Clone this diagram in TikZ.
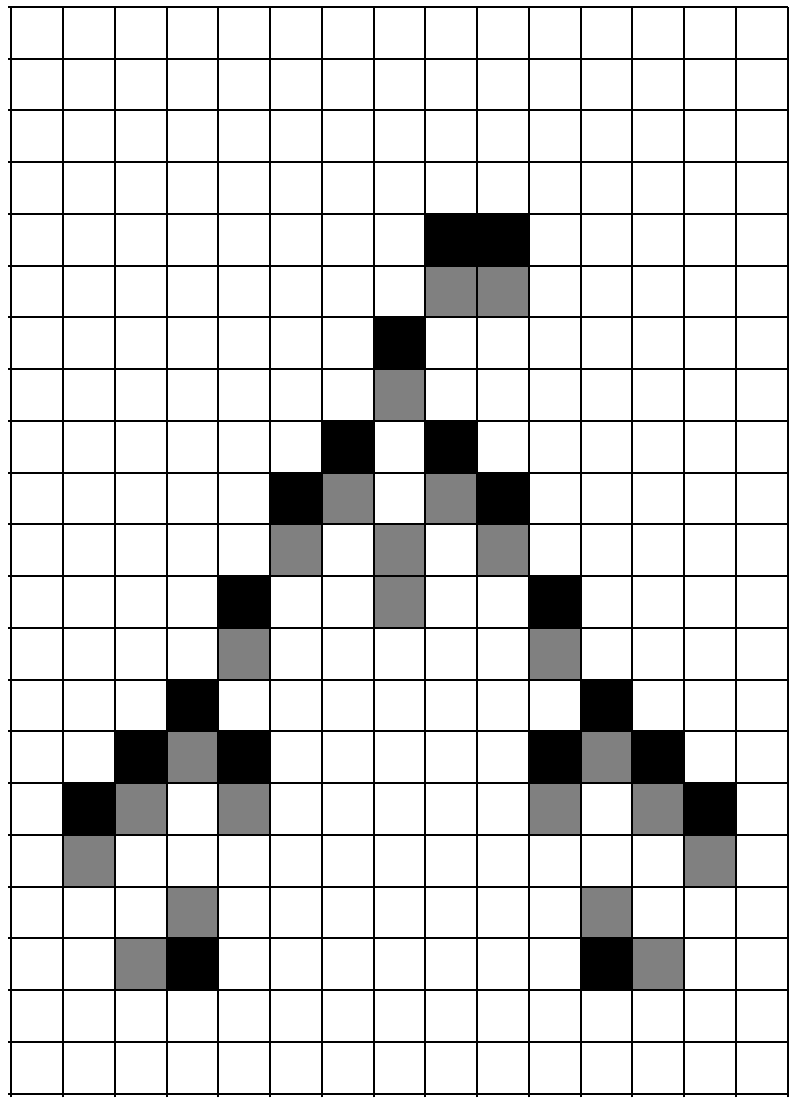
\documentclass[tikz,border=0pt]{standalone}
\usepackage{tikz}

\tikzset{
  blackcell/.style={fill=black},
  graycell/.style={fill=gray},
  gridline/.style={line width=1.1pt}
}

\begin{document}
\begin{tikzpicture}
\useasboundingbox (-0.222,-0.218) rectangle (15.12,21.135);
% black cells (column,row from top)
\foreach \c/\r in {8/4,9/4,7/6,6/8,8/8,5/9,9/9,4/11,10/11,3/13,11/13,2/14,4/14,10/14,12/14,1/15,13/15,3/18,11/18}
  \fill[blackcell] (\c,20-\r) rectangle (\c+1,21-\r);
% gray cells
\foreach \c/\r in {8/5,9/5,7/7,6/9,8/9,5/10,7/10,9/10,7/11,4/12,10/12,3/14,11/14,2/15,4/15,10/15,12/15,1/16,13/16,3/17,11/17,2/18,12/18}
  \fill[graycell] (\c,20-\r) rectangle (\c+1,21-\r);
% grid
\foreach \y in {0,...,21}
  \draw[gridline] (-0.06,\y) -- (15,\y);
\foreach \x in {0,...,15}
  \draw[gridline] (\x,-0.07) -- (\x,21);
\end{tikzpicture}
\end{document}
